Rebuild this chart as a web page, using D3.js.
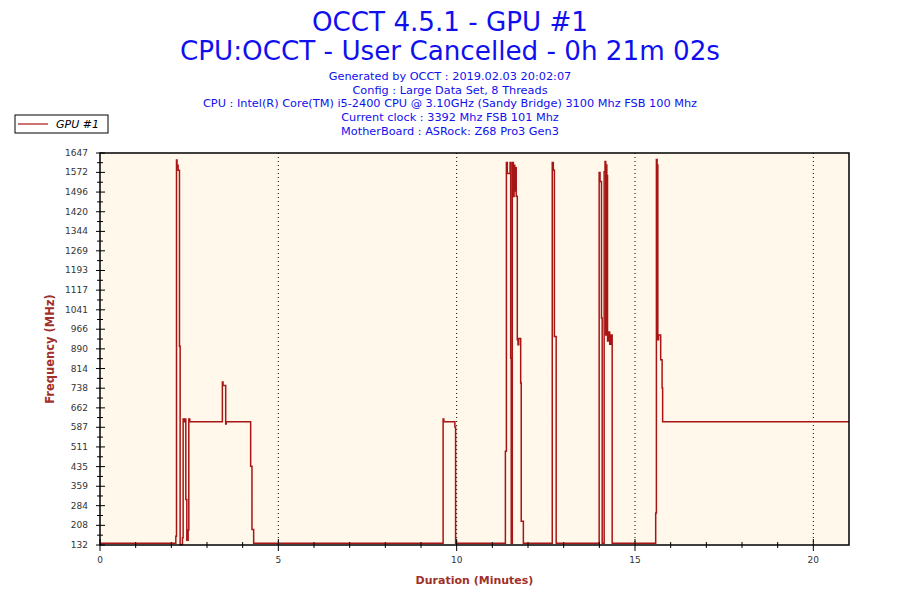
<!DOCTYPE html>
<html>
<head>
<meta charset="utf-8">
<script src="https://cdn.jsdelivr.net/npm/d3@7"></script>
<style>
  body { margin: 0; background: #fff; }
  svg { display: block; }
</style>
</head>
<body>
<div id="chart"></div>
<script>
// step change points: time (minutes) -> frequency (MHz)
let times = [
  0, 2.126, 2.145, 2.16, 2.175, 2.19, 2.228, 2.247, 2.312, 2.331, 2.359, 2.387, 2.406, 2.434, 2.471, 2.49, 2.517,
  3.431, 3.45, 3.524, 3.54, 4.224, 4.261, 4.308,
  9.62, 9.64, 9.95, 9.97,
  11.366, 11.394, 11.42, 11.497, 11.515, 11.53, 11.56, 11.59, 11.61, 11.63, 11.65, 11.67, 11.7, 11.72, 11.74, 11.795, 11.81, 11.87,
  12.68, 12.71, 12.74, 12.79,
  13.995, 14.02, 14.06, 14.08, 14.135, 14.16, 14.18, 14.19, 14.21, 14.23, 14.26, 14.29, 14.32, 14.36,
  15.58, 15.6, 15.62, 15.64, 15.66, 15.72, 15.76, 15.775, 21
]
let gpuFreq = [
  139, 166, 1620, 1590, 1600, 1580, 900, 134, 160, 619, 608, 619, 308, 150, 190, 619, 608,
  762, 748, 600, 608, 436, 192, 139,
  619, 608, 588, 139,
  494, 1610, 1568, 1610, 854, 139, 1610, 1479, 1600, 1500, 1590, 1480, 925, 906, 930, 758, 224, 139,
  1610, 1580, 938, 139,
  1572, 1537, 1009, 139, 1575, 1614, 944, 1601, 1560, 920, 955, 908, 944, 139,
  256, 1622, 1601, 925, 944, 848, 739, 608, 608
]
let yTicks = [132, 208, 284, 359, 435, 511, 587, 662, 738, 814, 890, 966, 1041, 1117, 1193, 1269, 1344, 1420, 1496, 1572, 1647]
let xTicks = [0, 5, 10, 15, 20]
let titleLines = ['OCCT 4.5.1 - GPU #1', 'CPU:OCCT - User Cancelled - 0h 21m 02s']
let infoLines = [
  'Generated by OCCT : 2019.02.03 20:02:07',
  'Config : Large Data Set, 8 Threads',
  'CPU : Intel(R) Core(TM) i5-2400 CPU @ 3.10GHz (Sandy Bridge) 3100 Mhz FSB 100 Mhz',
  'Current clock : 3392 Mhz FSB 101 Mhz',
  'MotherBoard : ASRock: Z68 Pro3 Gen3'
]
let seriesName = 'GPU #1'

let width = 900, height = 600
let margin = { top: 153, right: 51, bottom: 55, left: 100 },
  plot_width = width - margin.left - margin.right,
  plot_height = height - margin.top - margin.bottom

let lineColor = '#a81515'
let labelColor = '#a0302a'
let blue = '#1010ee'

let svg = d3.select('#chart').append('svg')
  .attr('width', width)
  .attr('height', height)

// titles
let titleWidths = [276, 540]
svg.selectAll('.title')
  .data(titleLines)
  .enter().append('text')
  .attr('class', 'title')
  .attr('x', 450)
  .attr('y', (d, i) => 31 + i * 29)
  .attr('text-anchor', 'middle')
  .attr('font-family', 'DejaVu Sans Condensed, DejaVu Sans, sans-serif')
  .attr('font-size', '26px')
  .attr('fill', blue)
  .attr('textLength', (d, i) => titleWidths[i])
  .attr('lengthAdjust', 'spacingAndGlyphs')
  .text(d => d)

svg.selectAll('.info')
  .data(infoLines)
  .enter().append('text')
  .attr('class', 'info')
  .attr('x', 450)
  .attr('y', (d, i) => 80 + i * 13.7)
  .attr('text-anchor', 'middle')
  .attr('font-family', 'DejaVu Sans, sans-serif')
  .attr('font-size', '11.3px')
  .attr('fill', blue)
  .text(d => d)

// legend
let legend = svg.append('g').attr('transform', 'translate(15,115)')
legend.append('rect')
  .attr('width', 93).attr('height', 18)
  .attr('fill', '#fff').attr('stroke', '#000').attr('stroke-width', 1)
legend.append('line')
  .attr('x1', 3).attr('x2', 33).attr('y1', 9).attr('y2', 9)
  .attr('stroke', lineColor).attr('stroke-width', 1.2)
legend.append('text')
  .attr('x', 41).attr('y', 13)
  .attr('font-family', 'DejaVu Sans, sans-serif')
  .attr('font-size', '11px')
  .attr('font-style', 'italic')
  .attr('fill', '#000')
  .text(seriesName)

// scales
let xScale = d3.scaleLinear().domain([0, 21]).range([0, plot_width])
let yScale = d3.scaleLinear().domain([132, 1647]).range([plot_height, 0])

let plot = svg.append('g')
  .attr('transform', `translate(${margin.left},${margin.top})`)

plot.append('rect')
  .attr('width', plot_width).attr('height', plot_height)
  .attr('fill', '#fff8eb')

// dotted vertical grid
plot.selectAll('.grid')
  .data(xTicks.filter(d => d > 0))
  .enter().append('line')
  .attr('class', 'grid')
  .attr('x1', d => xScale(d)).attr('x2', d => xScale(d))
  .attr('y1', 0).attr('y2', plot_height)
  .attr('stroke', '#000')
  .attr('stroke-width', 1)
  .attr('stroke-dasharray', '1,3')

// data line
let line = d3.line()
  .x((d, i) => xScale(times[i]))
  .y(d => yScale(d))
  .curve(d3.curveStepAfter)

plot.append('path')
  .datum(gpuFreq)
  .attr('d', line)
  .attr('fill', 'none')
  .attr('stroke', lineColor)
  .attr('stroke-width', 1.5)

// frame
plot.append('rect')
  .attr('width', plot_width).attr('height', plot_height)
  .attr('fill', 'none').attr('stroke', '#000').attr('stroke-width', 1.5)

// y axis ticks: labelled majors plus a minor between each
let tickFont = 'DejaVu Sans, sans-serif'
let yAxis = plot.append('g').attr('class', 'yaxis')
yAxis.selectAll('.major')
  .data(yTicks)
  .enter().append('line')
  .attr('x1', -4).attr('x2', 5)
  .attr('y1', d => yScale(d)).attr('y2', d => yScale(d))
  .attr('stroke', '#000')
yAxis.selectAll('.minor')
  .data(d3.pairs(yTicks))
  .enter().append('line')
  .attr('x1', -3).attr('x2', 3)
  .attr('y1', d => yScale((d[0] + d[1]) / 2)).attr('y2', d => yScale((d[0] + d[1]) / 2))
  .attr('stroke', '#000')
yAxis.selectAll('text')
  .data(yTicks)
  .enter().append('text')
  .attr('x', -12)
  .attr('y', d => yScale(d) + 3)
  .attr('text-anchor', 'end')
  .attr('font-family', tickFont)
  .attr('font-size', '9px')
  .attr('fill', '#333')
  .text(d => d)

// x axis ticks: every minute, longer at labelled ones
let xAxis = plot.append('g').attr('class', 'xaxis')
  .attr('transform', `translate(0,${plot_height})`)
xAxis.selectAll('line')
  .data(d3.range(0, 21))
  .enter().append('line')
  .attr('x1', d => xScale(d)).attr('x2', d => xScale(d))
  .attr('y1', d => d % 5 === 0 ? -6 : -3)
  .attr('y2', d => d % 5 === 0 ? 6 : 3)
  .attr('stroke', '#000')
xAxis.selectAll('text')
  .data(xTicks)
  .enter().append('text')
  .attr('x', d => xScale(d))
  .attr('y', 18)
  .attr('text-anchor', 'middle')
  .attr('font-family', tickFont)
  .attr('font-size', '9px')
  .attr('fill', '#333')
  .text(d => d)

// axis titles
svg.append('text')
  .attr('transform', `translate(54,${margin.top + plot_height / 2}) rotate(-90)`)
  .attr('text-anchor', 'middle')
  .attr('font-family', 'DejaVu Sans, sans-serif')
  .attr('font-size', '11.5px')
  .attr('font-weight', 'bold')
  .attr('fill', labelColor)
  .text('Frequency (MHz)')

svg.append('text')
  .attr('x', margin.left + plot_width / 2)
  .attr('y', 584)
  .attr('text-anchor', 'middle')
  .attr('font-family', 'DejaVu Sans, sans-serif')
  .attr('font-size', '11px')
  .attr('font-weight', 'bold')
  .attr('fill', labelColor)
  .text('Duration (Minutes)')
</script>
</body>
</html>
